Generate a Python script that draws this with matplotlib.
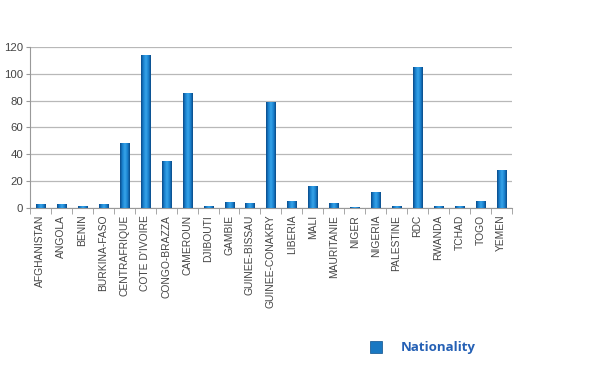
import matplotlib.pyplot as plt
import numpy as np
from matplotlib.patches import Rectangle

plt.rcParams['font.family'] = ['Liberation Sans', 'DejaVu Sans']

countries = ['AFGHANISTAN', 'ANGOLA', 'BENIN', 'BURKINA-FASO', 'CENTRAFRIQUE',
             "COTE D'IVOIRE", 'CONGO-BRAZZA', 'CAMEROUN', 'DJIBOUTI', 'GAMBIE',
             'GUINEE-BISSAU', 'GUINEE-CONAKRY', 'LIBERIA', 'MALI', 'MAURITANIE',
             'NIGER', 'NIGERIA', 'PALESTINE', 'RDC', 'RWANDA', 'TCHAD', 'TOGO', 'YEMEN']
counts = [2.5, 3, 1.2, 3, 48, 114, 35, 86, 1.3, 4.5, 3.5, 79, 5, 16, 3.5,
          0.5, 12, 1, 105, 1, 1, 5, 28]
yticks = [0, 20, 40, 60, 80, 100, 120]

fig = plt.figure(figsize=(6, 3.82), dpi=100)
ax = fig.add_axes([0.05, 0.456, 0.803, 0.421])

x = np.arange(len(countries))
bars = ax.bar(x, counts, width=0.43, color='#1a78c2', edgecolor='#0b4f8a',
              linewidth=0.5, zorder=3, label='Nationality')

# horizontal gradient inside each bar (dark edges, light centre)
grad = np.linspace(0, 1, 64)
grad = 1 - np.abs(grad - 0.5) * 2
cmap = plt.matplotlib.colors.LinearSegmentedColormap.from_list(
    'bar', ['#0a4a88', '#1a82cf', '#35a2e8'])
for b in bars:
    bx, by = b.get_x(), b.get_y()
    w, h = b.get_width(), b.get_height()
    im = ax.imshow(grad[np.newaxis, :], extent=[bx, bx + w, by, by + h],
                   cmap=cmap, aspect='auto', zorder=4)
    im.set_clip_path(b)

ax.set_xlim(-0.5, len(countries) - 0.5)
ax.set_ylim(0, 120)
ax.set_yticks(yticks)
ax.set_xticks(x)
ax.set_xticklabels(countries, rotation=90, fontsize=7.4, color='#444444')
ax.set_xticks(np.arange(len(countries) + 1) - 0.5, minor=True)
ax.tick_params(axis='x', which='major', length=0, pad=5)
ax.tick_params(axis='x', which='minor', length=4, color='#999999')
ax.tick_params(axis='y', labelsize=8.2, colors='#444444', length=3, pad=2,
               color='#999999')

ax.grid(axis='y', color='#b8b8b8', linewidth=0.9, zorder=0)
for s in ['top', 'right']:
    ax.spines[s].set_visible(False)
ax.spines['left'].set_color('#999999')
ax.spines['bottom'].set_color('#999999')

# legend
grad_leg = np.linspace(0, 1, 32)[np.newaxis, :]
fig.patches.append(Rectangle((0.617, 0.075), 0.02, 0.032, transform=fig.transFigure,
                             facecolor='#1a78c2', edgecolor='#0b4f8a', linewidth=0.5))
fig.text(0.668, 0.09, 'Nationality', fontsize=9.5, fontweight='bold',
         family=['Open Sans', 'DejaVu Sans'],
         color='#2460b5', va='center', ha='left')

fig.savefig('out.png', dpi=100)
